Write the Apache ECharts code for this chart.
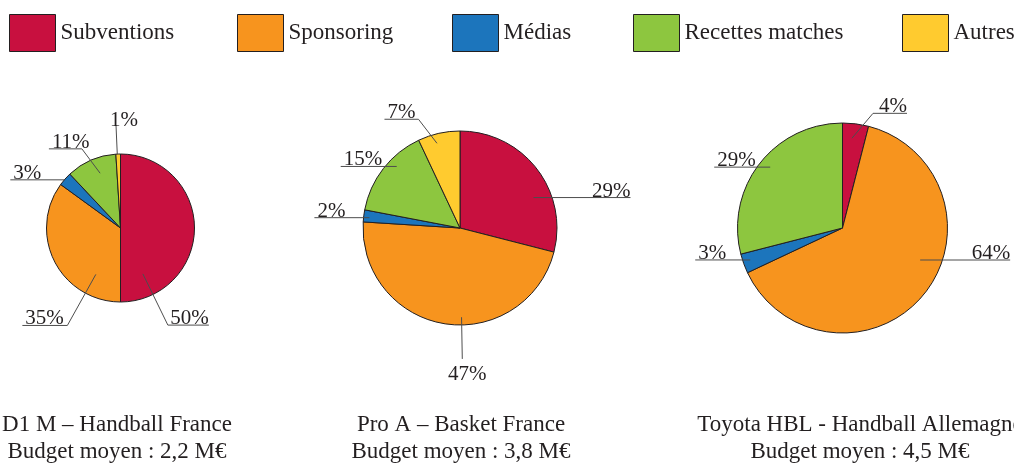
<!DOCTYPE html>
<html>
<head>
<meta charset="utf-8">
<script src="https://cdn.jsdelivr.net/npm/echarts@6/dist/echarts.min.js"></script>
<style>
html, body { margin: 0; padding: 0; background: #fff; }
#chart { width: 1014px; height: 465px; }
</style>
</head>
<body>
<div id="chart"></div>
<script>
// budget split of the clubs, in %, one value per league
var categories = ['Subventions', 'Sponsoring', 'Médias', 'Recettes matches', 'Autres'];
var leagues = ['D1 M – Handball France', 'Pro A – Basket France', 'Toyota HBL - Handball Allemagne'];
var budgets = ['Budget moyen : 2,2 M€', 'Budget moyen : 3,8 M€', 'Budget moyen : 4,5 M€'];
var subventions = [50, 29, 4];
var sponsoring = [35, 47, 64];
var medias = [3, 2, 3];
var recettes = [11, 15, 29];
var autres = [1, 7, 0];

var colors = ['#C8103F', '#F7941E', '#1C75BC', '#8DC63F', '#FFCB2F'];
var ink = '#231F20';
var font = "'Liberation Serif', 'DejaVu Serif', serif";

// where each pie sits (px) and its radius
var pies = [
    {center: [120.5, 228], r: 74, titleX: 117},
    {center: [460, 228], r: 97, titleX: 461},
    {center: [842.5, 228], r: 105, titleX: 860}
];
// leader lines: [start angle, start radius, bend angle, bend radius, horizontal length, text dx]
var labelSpots = [
    [[64, 0.69, 64, 1.46, 41], [118, 0.71, 118.6, 1.5, -45], [-139.4, 1, -139.4, 1, -54], [-110.4, 0.79, -116, 1.19, -33], [-92.5, 1, -92.5, 1.39, 0, 8]],
    [[-22.5, 0.82, -22.5, 0.82, 97], [89, 0.92, 89, 1.35, 0, 5], [-173.5, 0.94, -173.5, 0.94, -55], [-135.8, 0.91, -135.8, 0.91, -56], [-105.2, 0.905, -110.9, 1.2, -34]],
    [[-84, 0.86, -75.1, 1.13, 34], [22.4, 0.8, 22.4, 0.8, 90], [160.9, 0.93, 160.9, 0.93, -55], [-139.9, 0.9, -139.9, 0.9, -56], null]
];
var legendX = [9, 237, 452, 633, 902];

function placeLabel(pie, params) {
    var s = labelSpots[pie][params.dataIndex];
    if (!s) return {};
    var c = pies[pie].center, r = pies[pie].r, rad = Math.PI / 180;
    var p0 = [c[0] + Math.cos(s[0] * rad) * s[1] * r, c[1] + Math.sin(s[0] * rad) * s[1] * r];
    var p1 = [c[0] + Math.cos(s[2] * rad) * s[3] * r, c[1] + Math.sin(s[2] * rad) * s[3] * r];
    var p2 = [p1[0] + s[4], p1[1]];
    var res = {labelLinePoints: [p0, p1, p2]};
    if (s[4] > 0) {
        res.x = p2[0]; res.y = p2[1] + 4; res.align = 'right'; res.verticalAlign = 'bottom';
    } else if (s[4] < 0) {
        res.x = p2[0] + 3; res.y = p2[1] + 4; res.align = 'left'; res.verticalAlign = 'bottom';
    } else {
        res.x = p1[0] + (s[5] || 0); res.align = 'center';
        if (p1[1] < c[1]) { res.y = p1[1] + 6; res.verticalAlign = 'bottom'; }
        else { res.y = p1[1] + 5; res.verticalAlign = 'top'; }
    }
    return res;
}

var series = [];
var titles = [];
pies.forEach(function (p, i) {
    var values = [subventions[i], sponsoring[i], medias[i], recettes[i], autres[i]];
    // the coloured pie
    series.push({
        type: 'pie',
        center: p.center,
        radius: p.r,
        startAngle: 90,
        silent: true,
        z: 2,
        itemStyle: {borderColor: ink, borderWidth: 1},
        label: {show: false},
        labelLine: {show: false},
        data: values.map(function (v, k) {
            return {name: categories[k], value: v, itemStyle: {color: colors[k]}};
        })
    });
    // same pie, see-through, on top: carries the labels so the leader lines show over the slices
    series.push({
        type: 'pie',
        center: p.center,
        radius: p.r,
        startAngle: 90,
        silent: true,
        z: 5,
        avoidLabelOverlap: false,
        itemStyle: {color: 'rgba(0,0,0,0)', borderWidth: 0},
        label: {
            show: true,
            position: 'outside',
            formatter: '{c}%',
            color: ink,
            fontFamily: font,
            fontSize: 21,
            overflow: 'none'
        },
        labelLine: {show: true, lineStyle: {color: '#4d4d4d', width: 1}},
        labelLayout: function (params) { return placeLabel(i, params); },
        data: values.map(function (v, k) {
            var d = {name: categories[k], value: v};
            if (!v) { d.label = {show: false}; d.labelLine = {show: false}; }
            return d;
        })
    });
    titles.push({
        text: leagues[i] + '\n' + budgets[i],
        left: p.titleX,
        top: 411,
        textAlign: 'center',
        padding: 0,
        textStyle: {color: ink, fontFamily: font, fontSize: 23, fontWeight: 'normal', lineHeight: 27}
    });
});

var legends = categories.map(function (name, k) {
    return {
        data: [{name: name, icon: 'rect', itemStyle: {color: colors[k], borderColor: ink, borderWidth: 1}}],
        left: legendX[k],
        top: 14,
        padding: 0,
        itemWidth: 46,
        itemHeight: 37,
        selectedMode: false,
        textStyle: {color: ink, fontFamily: font, fontSize: 23}
    };
});

var chart = echarts.init(document.getElementById('chart'));
chart.setOption({
    animation: false,
    color: colors,
    title: titles,
    legend: legends,
    series: series
});
</script>
</body>
</html>
